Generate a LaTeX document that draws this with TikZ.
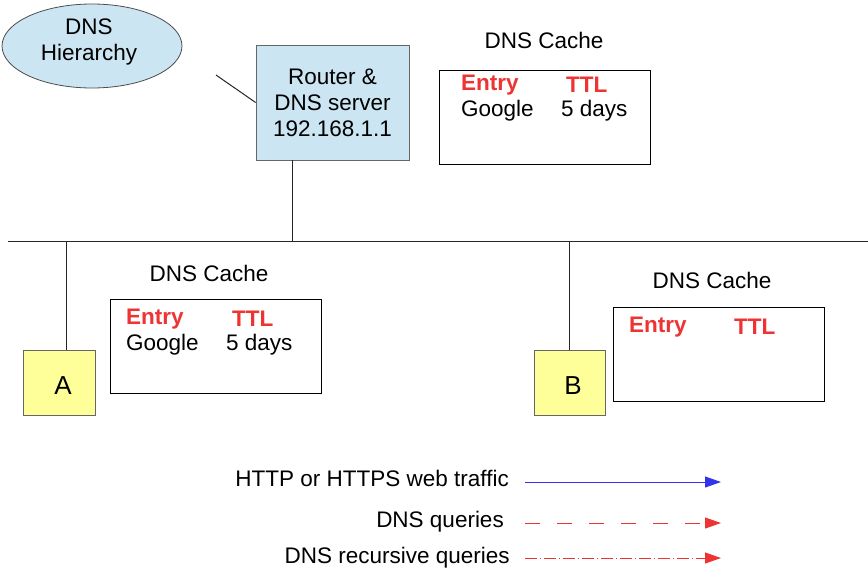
\documentclass[tikz,border=0pt]{standalone}
\usepackage{fontspec}
\setmainfont{Liberation Sans}
\usetikzlibrary{shapes.geometric,arrows.meta}
\definecolor{lb}{HTML}{CCE5F2}
\definecolor{yl}{HTML}{FFFF99}
\definecolor{rd}{HTML}{EE3333}
\definecolor{bl}{HTML}{3333EE}
\begin{document}
\begin{tikzpicture}[x=1pt,y=-1pt,
  txt/.style={font=\fontsize{22.5}{25}\selectfont,inner sep=0},
  hd/.style={txt,text=rd,font=\fontsize{22.5}{25}\selectfont\bfseries},
  box/.style={draw=black,line width=1pt},
  ln/.style={draw=black!85,line width=1pt},
  tip/.style={-{Triangle[length=16pt,width=11pt]}}]
\useasboundingbox (0,0) rectangle (868,576);
\node[ellipse,draw=black!70,line width=0.8pt,fill=lb,minimum width=180,minimum height=84] (h) at (92,46) {};
\node[txt,align=center] (hl) at (89,42) {DNS\\[1pt]Hierarchy};
\node[draw=black!60,line width=0.8pt,fill=lb,minimum width=153,minimum height=115,align=center,txt] (r) at (332.5,102.5) {Router \&\\[1pt]DNS server\\[1pt]192.168.1.1};
\coordinate (he) at (216,75);
\draw[ln] (he) -- (r.west);
\coordinate (j) at (292,241);
\draw[ln] (r.south -| j) -- (j);
\coordinate (l0) at (8,241); \coordinate (l1) at (868,241);
\draw[ln] (l0) -- (l1);
% router cache
\node[txt] (c0) at (544,40) {DNS Cache};
\node[box,minimum width=211,minimum height=94] (b0) at (544.5,117) {};
\node[hd,anchor=west] (e0) at (461,85) {Entry}; \node[hd,anchor=west] (t0) at (566,85) {TTL};
\node[txt,anchor=west] (g0) at (461,111) {Google}; \node[txt,anchor=west] (d0) at (561,111) {5 days};
% A
\node[draw=black!60,line width=0.8pt,fill=yl,minimum width=72,minimum height=65] (A) at (59,382.5) {};
\node[txt,font=\fontsize{26}{28}\selectfont] (Al) at (63,386) {A};
\coordinate (ja) at (66,241);
\draw[ln] (ja) -- (ja |- A.north);
\node[txt] (c1) at (209,273) {DNS Cache};
\node[box,minimum width=211,minimum height=94] (b1) at (215.5,346) {};
\node[hd,anchor=west] (e1) at (126,319) {Entry}; \node[hd,anchor=west] (t1) at (232,319) {TTL};
\node[txt,anchor=west] (g1) at (126,345) {Google}; \node[txt,anchor=west] (d1) at (226,345) {5 days};
% B
\node[draw=black!60,line width=0.8pt,fill=yl,minimum width=71,minimum height=65] (B) at (569.5,382.5) {};
\node[txt,font=\fontsize{26}{28}\selectfont] (Bl) at (573,386) {B};
\coordinate (jb) at (569,241);
\draw[ln] (jb) -- (jb |- B.north);
\node[txt] (c2) at (712,280) {DNS Cache};
\node[box,minimum width=211,minimum height=94] (b2) at (718.5,354) {};
\node[hd,anchor=west] (e2) at (629,327) {Entry}; \node[hd,anchor=west] (t2) at (734,327) {TTL};
% legend
\node[txt,anchor=east] (lg1) at (509,478) {HTTP or HTTPS web traffic};
\node[txt,anchor=east] (lg2) at (504,522) {DNS queries};
\node[txt,anchor=east] (lg3) at (510,558) {DNS recursive queries};
\coordinate (a1) at (525,482); \coordinate (a1e) at (721,482);
\coordinate (a2) at (525,523); \coordinate (a2e) at (721,523);
\coordinate (a3) at (525,558); \coordinate (a3e) at (721,558);
\draw[bl,line width=1pt,tip] (a1) -- (a1e);
\draw[rd,line width=1pt,tip,dash pattern=on 15pt off 17pt] (a2) -- (a2e);
\draw[rd,line width=1pt,tip,dash pattern=on 12pt off 3pt on 1pt off 3pt] (a3) -- (a3e);
\end{tikzpicture}
\end{document}
